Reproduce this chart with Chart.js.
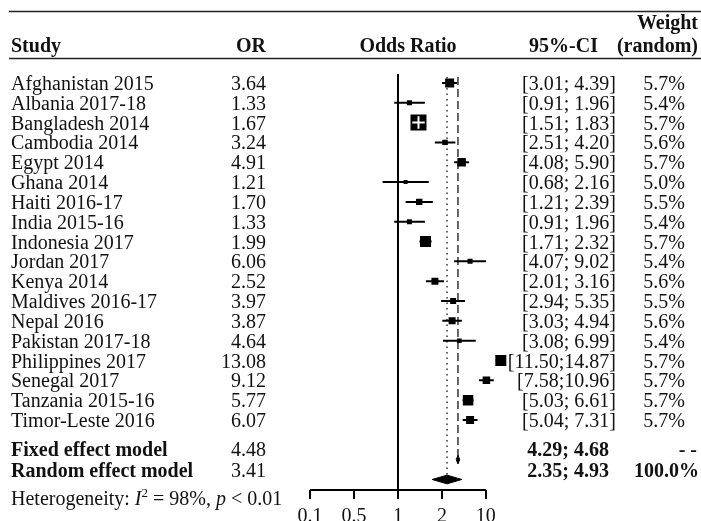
<!DOCTYPE html>
<html>
<head>
<meta charset="utf-8">
<script src="https://cdn.jsdelivr.net/npm/chart.js@4.4.1/dist/chart.umd.min.js"></script>
<style>
    html, body { margin: 0; padding: 0; background: #fff; }
    #wrap { position: relative; width: 701px; height: 521px; }
</style>
</head>
<body>
<div id="wrap"><canvas id="forest" width="701" height="521"></canvas></div>
<script>
const studies = ['Afghanistan 2015', 'Albania 2017-18', 'Bangladesh 2014', 'Cambodia 2014', 'Egypt 2014',
    'Ghana 2014', 'Haiti 2016-17', 'India 2015-16', 'Indonesia 2017', 'Jordan 2017', 'Kenya 2014',
    'Maldives 2016-17', 'Nepal 2016', 'Pakistan 2017-18', 'Philippines 2017', 'Senegal 2017',
    'Tanzania 2015-16', 'Timor-Leste 2016'];
const oddsRatio = [3.64, 1.33, 1.67, 3.24, 4.91, 1.21, 1.70, 1.33, 1.99, 6.06, 2.52, 3.97, 3.87, 4.64, 13.08, 9.12, 5.77, 6.07];
const ciLower = [3.01, 0.91, 1.51, 2.51, 4.08, 0.68, 1.21, 0.91, 1.71, 4.07, 2.01, 2.94, 3.03, 3.08, 11.50, 7.58, 5.03, 5.04];
const ciUpper = [4.39, 1.96, 1.83, 4.20, 5.90, 2.16, 2.39, 1.96, 2.32, 9.02, 3.16, 5.35, 4.94, 6.99, 14.87, 10.96, 6.61, 7.31];
const weightRandom = [5.7, 5.4, 5.7, 5.6, 5.7, 5.0, 5.5, 5.4, 5.7, 5.4, 5.6, 5.5, 5.6, 5.4, 5.7, 5.7, 5.7, 5.7];
// fixed-effect weights (%)
const weightFixed = [6.8, 2.1, 21.4, 2.5, 6.0, 1.3, 3.5, 2.1, 10.1, 2.1, 4.1, 3.0, 4.1, 1.7, 10.1, 4.7, 9.2, 5.3];
const fixedEffect = [4.48, 4.29, 4.68];   // OR, lower, upper
const randomEffect = [3.41, 2.35, 4.93];
const tickValues = [1 / 9, 1 / 3, 1, 3, 9];
const tickLabels = ['0.1', '0.5', '1', '2', '10'];

const FONT = '"Liberation Serif", "DejaVu Serif", serif';
const PAD_LEFT = 305.9, PAD_RIGHT = 183.2;
const X_MIN = 0.1, X_MAX = 20;
const ROW_FIXED = 19;
const ROW_RANDOM = 20;
const Y_AXIS = 20.53;
const DIAMOND_H = 0.22;

// CI segments separated by gaps
const ciSegments = [];
studies.forEach((s, i) => {
    ciSegments.push({ x: ciLower[i], y: i }, { x: ciUpper[i], y: i }, { x: null, y: null });
});
const boxes = oddsRatio.map((v, i) => ({ x: v, y: i }));
const boxRadius = weightFixed.map(w => 3.46 * Math.sqrt(w) / Math.SQRT2);

// studies whose whole CI sits clearly inside the box get a white cross (R meta style)
const pxPerLn = (701 - PAD_LEFT - PAD_RIGHT) / Math.log(X_MAX / X_MIN);
const insideIdx = oddsRatio.map((v, i) => i).filter(i => {
    const half = boxRadius[i] * Math.SQRT1_2 - 1;
    return Math.log(oddsRatio[i] / ciLower[i]) * pxPerLn < half &&
           Math.log(ciUpper[i] / oddsRatio[i]) * pxPerLn < half;
});

function diamond(vals, row) {
    return [
        { x: vals[1], y: row }, { x: vals[0], y: row - DIAMOND_H },
        { x: vals[2], y: row }, { x: vals[0], y: row + DIAMOND_H }, { x: vals[1], y: row }
    ];
}

function ciText(i) {
    const sep = ciUpper[i] >= 10 ? ';' : '; ';
    return '[' + ciLower[i].toFixed(2) + sep + ciUpper[i].toFixed(2) + ']';
}

const tablePlugin = {
    id: 'forestTable',
    afterDraw(chart) {
        const { ctx, scales: { y } } = chart;
        ctx.save();
        ctx.fillStyle = '#111';
        ctx.strokeStyle = '#222';
        ctx.lineWidth = 1.3;
        ctx.beginPath();
        ctx.moveTo(9, 11.5); ctx.lineTo(701, 11.5);
        ctx.moveTo(9, 58.5); ctx.lineTo(701, 58.5);
        ctx.stroke();

        const txt = (s, px, py, align, style) => {
            ctx.font = (style || '') + ' 20px ' + FONT;
            ctx.textAlign = align;
            ctx.textBaseline = 'alphabetic';
            ctx.fillText(s, px, py);
            return ctx.measureText(s).width;
        };

        // header
        txt('Study', 11, 52, 'left', 'bold');
        txt('OR', 266, 52, 'right', 'bold');
        txt('Odds Ratio', 408, 52, 'center', 'bold');
        txt('95%-CI', 598, 52, 'right', 'bold');
        txt('Weight', 698, 29, 'right', 'bold');
        txt('(random)', 698, 52, 'right', 'bold');

        studies.forEach((s, i) => {
            const py = y.getPixelForValue(i) + 7;
            txt(s, 11, py, 'left');
            txt(oddsRatio[i].toFixed(2), 266, py, 'right');
            txt(ciText(i), 616, py, 'right');
            txt(weightRandom[i].toFixed(1) + '%', 685, py, 'right');
        });

        const pf = y.getPixelForValue(ROW_FIXED) - 4;
        txt('Fixed effect model', 11, pf, 'left', 'bold');
        txt(fixedEffect[0].toFixed(2), 266, pf, 'right');
        txt(fixedEffect[1].toFixed(2) + '; ' + fixedEffect[2].toFixed(2), 609, pf, 'right', 'bold');
        txt('- -', 697, pf, 'right', 'bold');

        const pr = y.getPixelForValue(ROW_RANDOM) - 2;
        txt('Random effect model', 11, pr, 'left', 'bold');
        txt(randomEffect[0].toFixed(2), 266, pr, 'right');
        txt(randomEffect[1].toFixed(2) + '; ' + randomEffect[2].toFixed(2), 609, pr, 'right', 'bold');
        txt('100.0%', 699, pr, 'right', 'bold');

        // heterogeneity line
        const ph = y.getPixelForValue(21) + 6;
        let cx = 11;
        cx += txt('Heterogeneity: ', cx, ph, 'left');
        cx += txt('I', cx, ph, 'left', 'italic');
        ctx.font = '13px ' + FONT;
        ctx.fillText('2', cx, ph - 8);
        cx += ctx.measureText('2').width;
        cx += txt(' = 98%, ', cx, ph, 'left');
        cx += txt('p', cx, ph, 'left', 'italic');
        txt(' < 0.01', cx, ph, 'left');
        ctx.restore();
    }
};

// "order": higher numbers are drawn first, lower ones end up on top
const ctx = document.getElementById('forest').getContext('2d');
const forest = new Chart(ctx, {
    type: 'scatter',
    data: {
        datasets: [
            {   // reference line at OR = 1
                type: 'line', order: 9,
                data: [{ x: 1, y: -0.45 }, { x: 1, y: Y_AXIS }],
                borderColor: '#000', borderWidth: 2, pointRadius: 0, clip: false
            },
            {   // fixed effect estimate
                type: 'line', order: 8,
                data: [{ x: fixedEffect[0], y: -0.3 }, { x: fixedEffect[0], y: ROW_FIXED }],
                borderColor: '#333', borderWidth: 1.5, borderDash: [8, 4], pointRadius: 0
            },
            {   // random effect estimate
                type: 'line', order: 7,
                data: [{ x: randomEffect[0], y: -0.3 }, { x: randomEffect[0], y: ROW_RANDOM + 0.2 }],
                borderColor: '#333', borderWidth: 1.5, borderDash: [1.5, 4], pointRadius: 0
            },
            {   // confidence intervals
                type: 'line', order: 6,
                data: ciSegments,
                borderColor: '#000', borderWidth: 2, pointRadius: 0, spanGaps: false
            },
            {   // study boxes
                order: 5,
                data: boxes,
                pointStyle: 'rect',
                pointRadius: boxRadius,
                pointHoverRadius: boxRadius,
                backgroundColor: '#000', borderWidth: 0
            },
            {   // CI drawn white inside large boxes
                order: 4,
                data: insideIdx.map(i => boxes[i]),
                pointStyle: 'cross',
                pointRadius: insideIdx.map(i => boxRadius[i] * 0.55),
                borderColor: '#fff', borderWidth: 2
            },
            {
                type: 'line', order: 3,
                data: diamond(fixedEffect, ROW_FIXED),
                borderColor: '#000', borderWidth: 1, backgroundColor: '#000',
                fill: 'shape', pointRadius: 0
            },
            {
                type: 'line', order: 2,
                data: diamond(randomEffect, ROW_RANDOM),
                borderColor: '#000', borderWidth: 1, backgroundColor: '#000',
                fill: 'shape', pointRadius: 0
            },
            {   // axis line between first and last tick
                type: 'line', order: 1,
                data: [{ x: tickValues[0], y: Y_AXIS }, { x: tickValues[tickValues.length - 1], y: Y_AXIS }],
                borderColor: '#000', borderWidth: 2, pointRadius: 0, clip: false
            }
        ]
    },
    options: {
        responsive: false,
        animation: false,
        events: [],
        layout: { padding: { left: PAD_LEFT, right: PAD_RIGHT, top: 71, bottom: 0 } },
        plugins: { legend: { display: false }, tooltip: { enabled: false } },
        scales: {
            x: {
                type: 'logarithmic',
                min: X_MIN,
                max: X_MAX,
                afterBuildTicks: (scale) => { scale.ticks = tickValues.map(v => ({ value: v })); },
                afterFit: (scale) => { scale.height = 31; },
                ticks: {
                    autoSkip: false,
                    maxRotation: 0,
                    padding: 6,
                    color: '#111',
                    font: { family: FONT, size: 20 },
                    callback: (value, index) => tickLabels[index]
                },
                grid: { drawOnChartArea: false, drawTicks: true, tickLength: 9, color: '#000', lineWidth: 2 },
                border: { display: false }
            },
            y: {
                type: 'linear',
                reverse: true,
                min: -0.6,
                max: Y_AXIS,
                display: false
            }
        }
    },
    plugins: [tablePlugin]
});
</script>
</body>
</html>
